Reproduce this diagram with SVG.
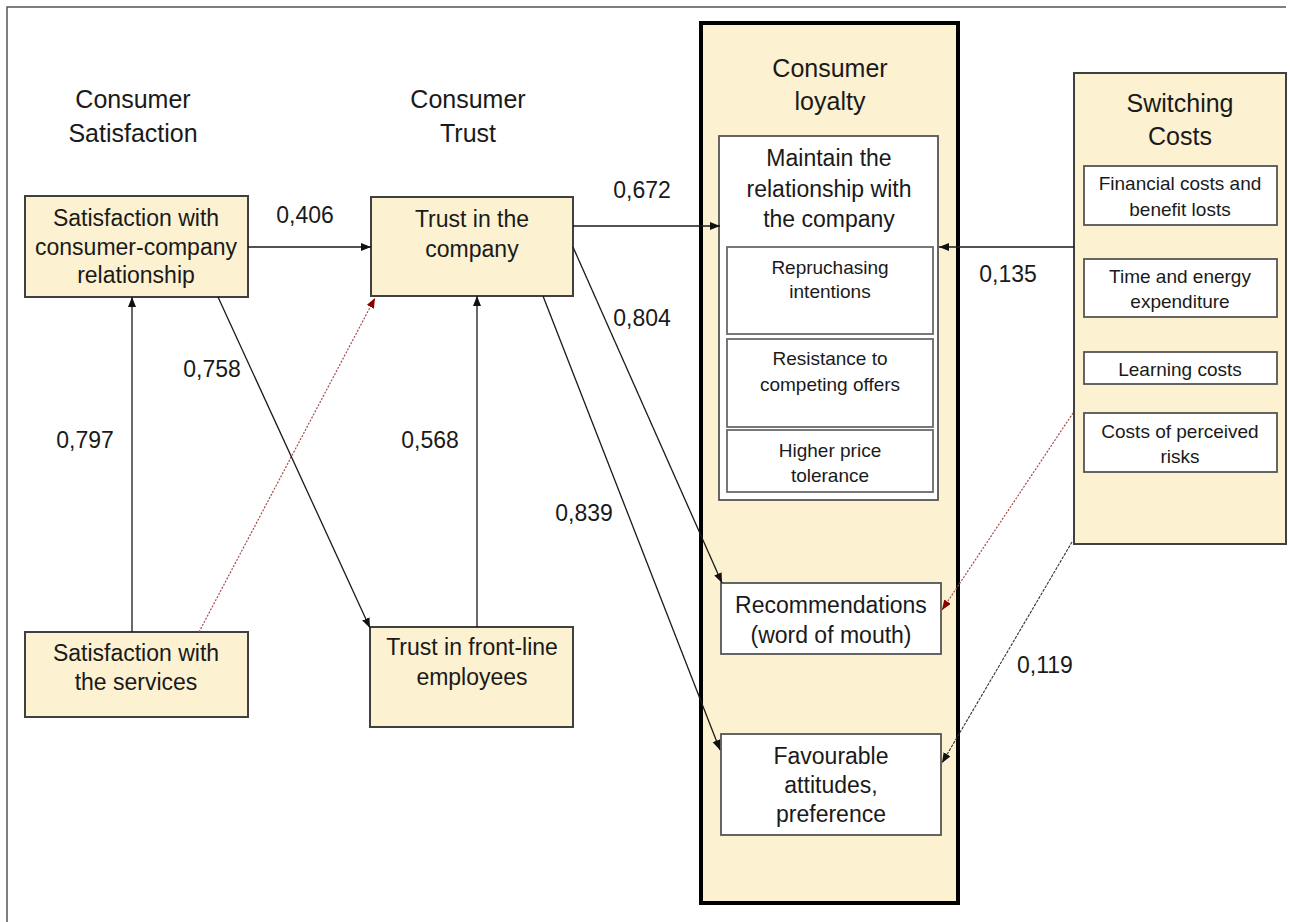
<svg xmlns="http://www.w3.org/2000/svg" width="1290" height="922" viewBox="0 0 1290 922">
<defs>
<style>
text{font-family:"Liberation Sans",Arial,sans-serif;fill:#1a1a1a;text-anchor:middle}
.h{font-size:25px}
.b{font-size:23px}
.s{font-size:19px}
.l{font-size:23px}
.beige{fill:#fcf1d0;stroke:#404040;stroke-width:2}
.white{fill:#ffffff;stroke:#555555;stroke-width:1.8}
.sub{fill:#ffffff;stroke:#6a6a6a;stroke-width:1.8}
.c{fill:none;stroke:#1a1a1a;stroke-width:1.3}
.red{fill:none;stroke:#a34a4a;stroke-width:1.2;stroke-dasharray:2 1.5}
.dot{fill:none;stroke:#333333;stroke-width:1.1;stroke-dasharray:3 1.2}
</style>
<marker id="ab" markerUnits="userSpaceOnUse" markerWidth="11" markerHeight="9" refX="10" refY="4" orient="auto"><path d="M0,0 L10,4 L0,8 z" fill="#111"/></marker>
<marker id="ar" markerUnits="userSpaceOnUse" markerWidth="11" markerHeight="9" refX="10" refY="4" orient="auto"><path d="M0,0 L10,4 L0,8 z" fill="#8b0000"/></marker>
</defs>
<rect width="1290" height="922" fill="#ffffff"/>
<path d="M7,922 V7 H1286" fill="none" stroke="#555" stroke-width="1.5"/>

<g id="header-satisfaction"><text class="h" x="133" y="108">Consumer</text><text class="h" x="133" y="142">Satisfaction</text></g>
<g id="header-trust"><text class="h" x="468" y="108">Consumer</text><text class="h" x="468" y="142">Trust</text></g>

<g id="loyalty">
<rect x="701" y="23" width="257" height="880" fill="#fcf1d0" stroke="#000" stroke-width="4"/>
<text class="h" x="830" y="77">Consumer</text><text class="h" x="830" y="110">loyalty</text>
</g>

<g id="maintain">
<rect class="white" x="719" y="136" width="219" height="364"/>
<text class="b" x="829" y="166">Maintain the</text>
<text class="b" x="829" y="197">relationship with</text>
<text class="b" x="829" y="227">the company</text>
</g>
<g id="repurchasing"><rect class="sub" x="727" y="247" width="206" height="87"/><text class="s" x="830" y="274">Repruchasing</text><text class="s" x="830" y="298">intentions</text></g>
<g id="resistance"><rect class="sub" x="727" y="339" width="206" height="88"/><text class="s" x="830" y="365">Resistance to</text><text class="s" x="830" y="391">competing offers</text></g>
<g id="price"><rect class="sub" x="727" y="430" width="206" height="62"/><text class="s" x="830" y="457">Higher price</text><text class="s" x="830" y="482">tolerance</text></g>

<g id="recommendations"><rect class="white" x="721" y="583" width="220" height="71"/><text class="b" x="831" y="613">Recommendations</text><text class="b" x="831" y="643">(word of mouth)</text></g>
<g id="favourable"><rect class="white" x="721" y="734" width="220" height="101"/><text class="b" x="831" y="764">Favourable</text><text class="b" x="831" y="793">attitudes,</text><text class="b" x="831" y="822">preference</text></g>

<g id="switching">
<rect class="beige" x="1074" y="73" width="212" height="471"/>
<text class="h" x="1180" y="112">Switching</text><text class="h" x="1180" y="145">Costs</text>
</g>
<g id="financial"><rect class="white" x="1084" y="166" width="193" height="59"/><text class="s" x="1180" y="190">Financial costs and</text><text class="s" x="1180" y="216">benefit losts</text></g>
<g id="time"><rect class="white" x="1084" y="259" width="193" height="58"/><text class="s" x="1180" y="283">Time and energy</text><text class="s" x="1180" y="308">expenditure</text></g>
<g id="learning"><rect class="white" x="1084" y="352" width="193" height="32"/><text class="s" x="1180" y="376">Learning costs</text></g>
<g id="risks"><rect class="white" x="1084" y="413" width="193" height="59"/><text class="s" x="1180" y="438">Costs of perceived</text><text class="s" x="1180" y="463">risks</text></g>

<g id="sat-relationship"><rect class="beige" x="25" y="196" width="223" height="101"/><text class="b" x="136" y="226">Satisfaction with</text><text class="b" x="136" y="255">consumer-company</text><text class="b" x="136" y="283">relationship</text></g>
<g id="trust-company"><rect class="beige" x="371" y="197" width="202" height="99"/><text class="b" x="472" y="227">Trust in the</text><text class="b" x="472" y="257">company</text></g>
<g id="sat-services"><rect class="beige" x="25" y="632" width="223" height="85"/><text class="b" x="136" y="661">Satisfaction with</text><text class="b" x="136" y="690">the services</text></g>
<g id="trust-frontline"><rect class="beige" x="370" y="627" width="203" height="100"/><text class="b" x="472" y="655">Trust in front-line</text><text class="b" x="472" y="685">employees</text></g>

<g id="connectors">
<line class="c" x1="248" y1="247" x2="371" y2="247" marker-end="url(#ab)"/>
<line class="c" x1="132" y1="632" x2="132" y2="297" marker-end="url(#ab)"/>
<line class="red" x1="199" y1="632" x2="375" y2="298" marker-end="url(#ar)"/>
<line class="c" x1="218" y1="297" x2="370" y2="628" marker-end="url(#ab)"/>
<line class="c" x1="477" y1="627" x2="477" y2="296" marker-end="url(#ab)"/>
<line class="c" x1="573" y1="226" x2="720" y2="226" marker-end="url(#ab)"/>
<line class="c" x1="573" y1="247" x2="722" y2="583" marker-end="url(#ab)"/>
<line class="c" x1="543" y1="296" x2="720" y2="750" marker-end="url(#ab)"/>
<line class="c" x1="1074" y1="247" x2="939" y2="247" marker-end="url(#ab)"/>
<line class="red" x1="1073" y1="413" x2="942" y2="610" marker-end="url(#ar)"/>
<line class="dot" x1="1072" y1="542" x2="942" y2="763" marker-end="url(#ab)"/>
</g>

<g id="labels">
<text class="l" x="305" y="223">0,406</text>
<text class="l" x="642" y="198">0,672</text>
<text class="l" x="1008" y="282">0,135</text>
<text class="l" x="642" y="326">0,804</text>
<text class="l" x="212" y="377">0,758</text>
<text class="l" x="85" y="448">0,797</text>
<text class="l" x="430" y="448">0,568</text>
<text class="l" x="584" y="521">0,839</text>
<text class="l" x="1045" y="673">0,119</text>
</g>
</svg>
